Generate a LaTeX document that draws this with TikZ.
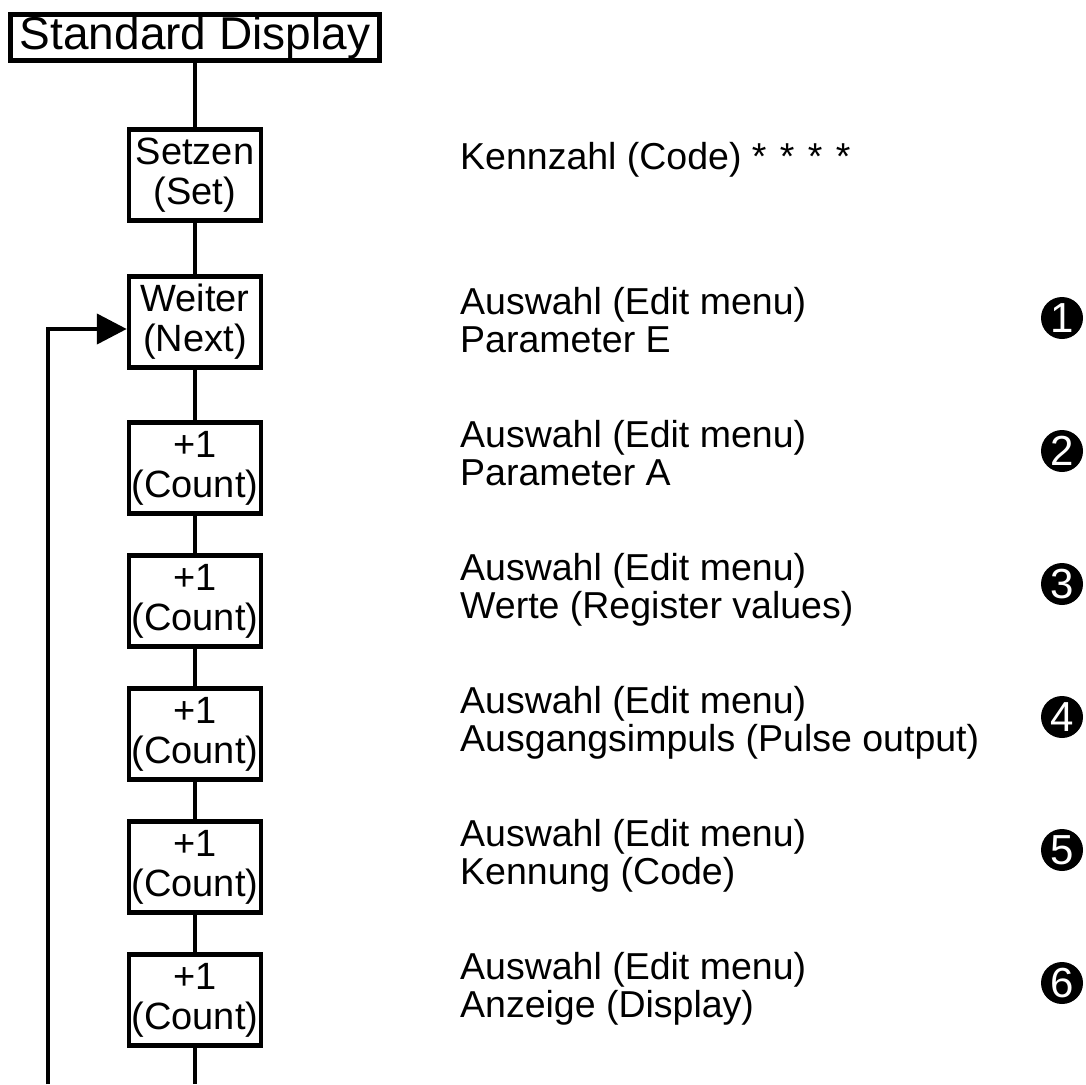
\documentclass[tikz,border=0pt]{standalone}
\usepackage{fontspec}
\setmainfont{Liberation Sans}
\usetikzlibrary{arrows.meta}
\begin{document}
\begin{tikzpicture}[x=1pt,y=-1pt,
  box/.style={draw, line width=4.5pt, minimum width=132pt, minimum height=91pt, inner sep=0pt, align=center, font=\fontsize{38}{40}\selectfont},
  lbl/.style={anchor=base west, align=left, inner sep=0pt, font=\fontsize{37.5}{38}\selectfont},
  num/.style={circle, fill=black, minimum size=42pt, inner sep=0pt, text=white, font=\fontsize{42}{42}\selectfont},
  conn/.style={line width=4.5pt}]
\useasboundingbox (0,0) rectangle (1086,1084);
\node[draw, line width=4.5pt, minimum width=369pt, minimum height=46pt, inner sep=0pt, font=\fontsize{46}{46}\selectfont] (sd) at (195,37.5) {Standard Display};
\node[box] (set) at (195,175) {Setzen\\(Set)};
\node[box] (next) at (195,322) {Weiter\\(Next)};
\node[box] (c1) at (195,468) {+1\\(Count)};
\node[box] (c2) at (195,601) {+1\\(Count)};
\node[box] (c3) at (195,734) {+1\\(Count)};
\node[box] (c4) at (195,867) {+1\\(Count)};
\node[box] (c5) at (195,1000) {+1\\(Count)};
\coordinate (bot) at (195,1084);
\coordinate (lb) at (48,1084);
\draw[conn] (sd) -- (set);
\draw[conn] (set) -- (next);
\draw[conn] (next) -- (c1);
\draw[conn] (c1) -- (c2);
\draw[conn] (c2) -- (c3);
\draw[conn] (c3) -- (c4);
\draw[conn] (c4) -- (c5);
\draw[conn] (c5) -- (bot);
\draw[conn,-{Triangle[length=30pt,width=30pt]}] (lb) |- ([yshift=-7pt]next.west);
\node[lbl] (t0) at (460,169) {Kennzahl (Code) *\hspace{3pt} *\hspace{3pt} *\hspace{3pt} *};
\node[lbl] (t1) at (460,352) {Auswahl (Edit menu)\\Parameter E};
\node[lbl] (t2) at (460,485) {Auswahl (Edit menu)\\Parameter A};
\node[lbl] (t3) at (460,618) {Auswahl (Edit menu)\\Werte (Register values)};
\node[lbl] (t4) at (460,751) {Auswahl (Edit menu)\\Ausgangsimpuls (Pulse output)};
\node[lbl] (t5) at (460,884) {Auswahl (Edit menu)\\Kennung (Code)};
\node[lbl] (t6) at (460,1017) {Auswahl (Edit menu)\\Anzeige (Display)};
\node[num] (n1) at (1062,318) {1};
\node[num] (n2) at (1062,451) {2};
\node[num] (n3) at (1062,584) {3};
\node[num] (n4) at (1062,717) {4};
\node[num] (n5) at (1062,850) {5};
\node[num] (n6) at (1062,983) {6};
\end{tikzpicture}
\end{document}
